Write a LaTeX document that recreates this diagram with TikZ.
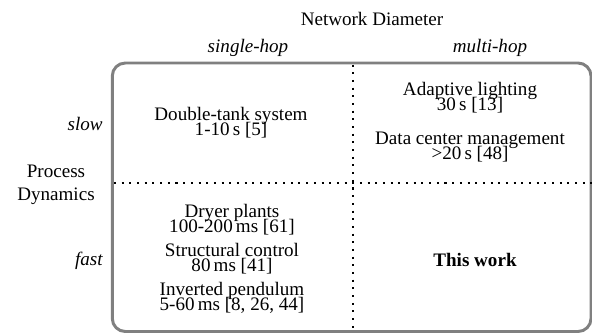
\documentclass[tikz,border=0pt]{standalone}
\usepackage{fontspec}
\setmainfont{Liberation Serif}
\newcommand\myTightFont{\fontsize{10.3}{8.1}\selectfont\lineskiplimit-20pt\relax}
\newcommand\myNormFont{\fontsize{10.3}{12.4}\selectfont}
\begin{document}
\begin{tikzpicture}[x=0.54pt,y=-0.54pt,
  lbl/.style={anchor=base,inner sep=0pt,font=\myNormFont},
  lblr/.style={lbl,anchor=base east},
  entry/.style={anchor=north,inner sep=0pt,align=center,font=\myTightFont},
  twoline/.style={anchor=north,inner sep=0pt,align=center,font=\myNormFont},
  frame/.style={draw=black!50,line width=1.6pt,rounded corners=7pt},
  sep/.style={line width=1.1pt,dash pattern=on 1.1pt off 3.05pt}]
\useasboundingbox (0,0) rectangle (592,333);
\draw[frame] (112.3,63) rectangle (591,331.5);
\coordinate (vt) at (352.7,64.5);
\coordinate (vb) at (352.7,333);
\coordinate (hl) at (114,183.3);
\coordinate (hr) at (592,183.3);
\draw[sep] (vt) -- (vb);
\draw[sep] (hl) -- (hr);
% axis labels
\node[lbl] (nd) at (372,25) {Network Diameter};
\node[lbl] (sh) at (248,52.5) {\itshape single-hop};
\node[lbl] (mh) at (490,52.5) {\itshape multi-hop};
\node[lblr] (slow) at (103,130.5) {\itshape slow};
\node[lblr] (fast) at (103,265) {\itshape fast};
\node[twoline] (pd) at (56,164.5) {Process\\Dynamics};
% top-left
\node[entry] (dt) at (231,107) {Double-tank system\\1-10\,s [5]};
% top-right
\node[entry] (al) at (470,82) {Adaptive lighting\\30\,s [13]};
\node[entry] (dc) at (470,131.5) {Data center management\\>20\,s [48]};
% bottom-left
\node[entry] (dp) at (232,203.5) {Dryer plants\\100-200\,ms [61]};
\node[entry] (sc) at (232,242.5) {Structural control\\80\,ms [41]};
\node[entry] (ip) at (232,282) {Inverted pendulum\\5-60\,ms [8, 26, 44]};
% bottom-right
\node[lbl] (tw) at (475,266.5) {\bfseries This work};
\end{tikzpicture}
\end{document}
